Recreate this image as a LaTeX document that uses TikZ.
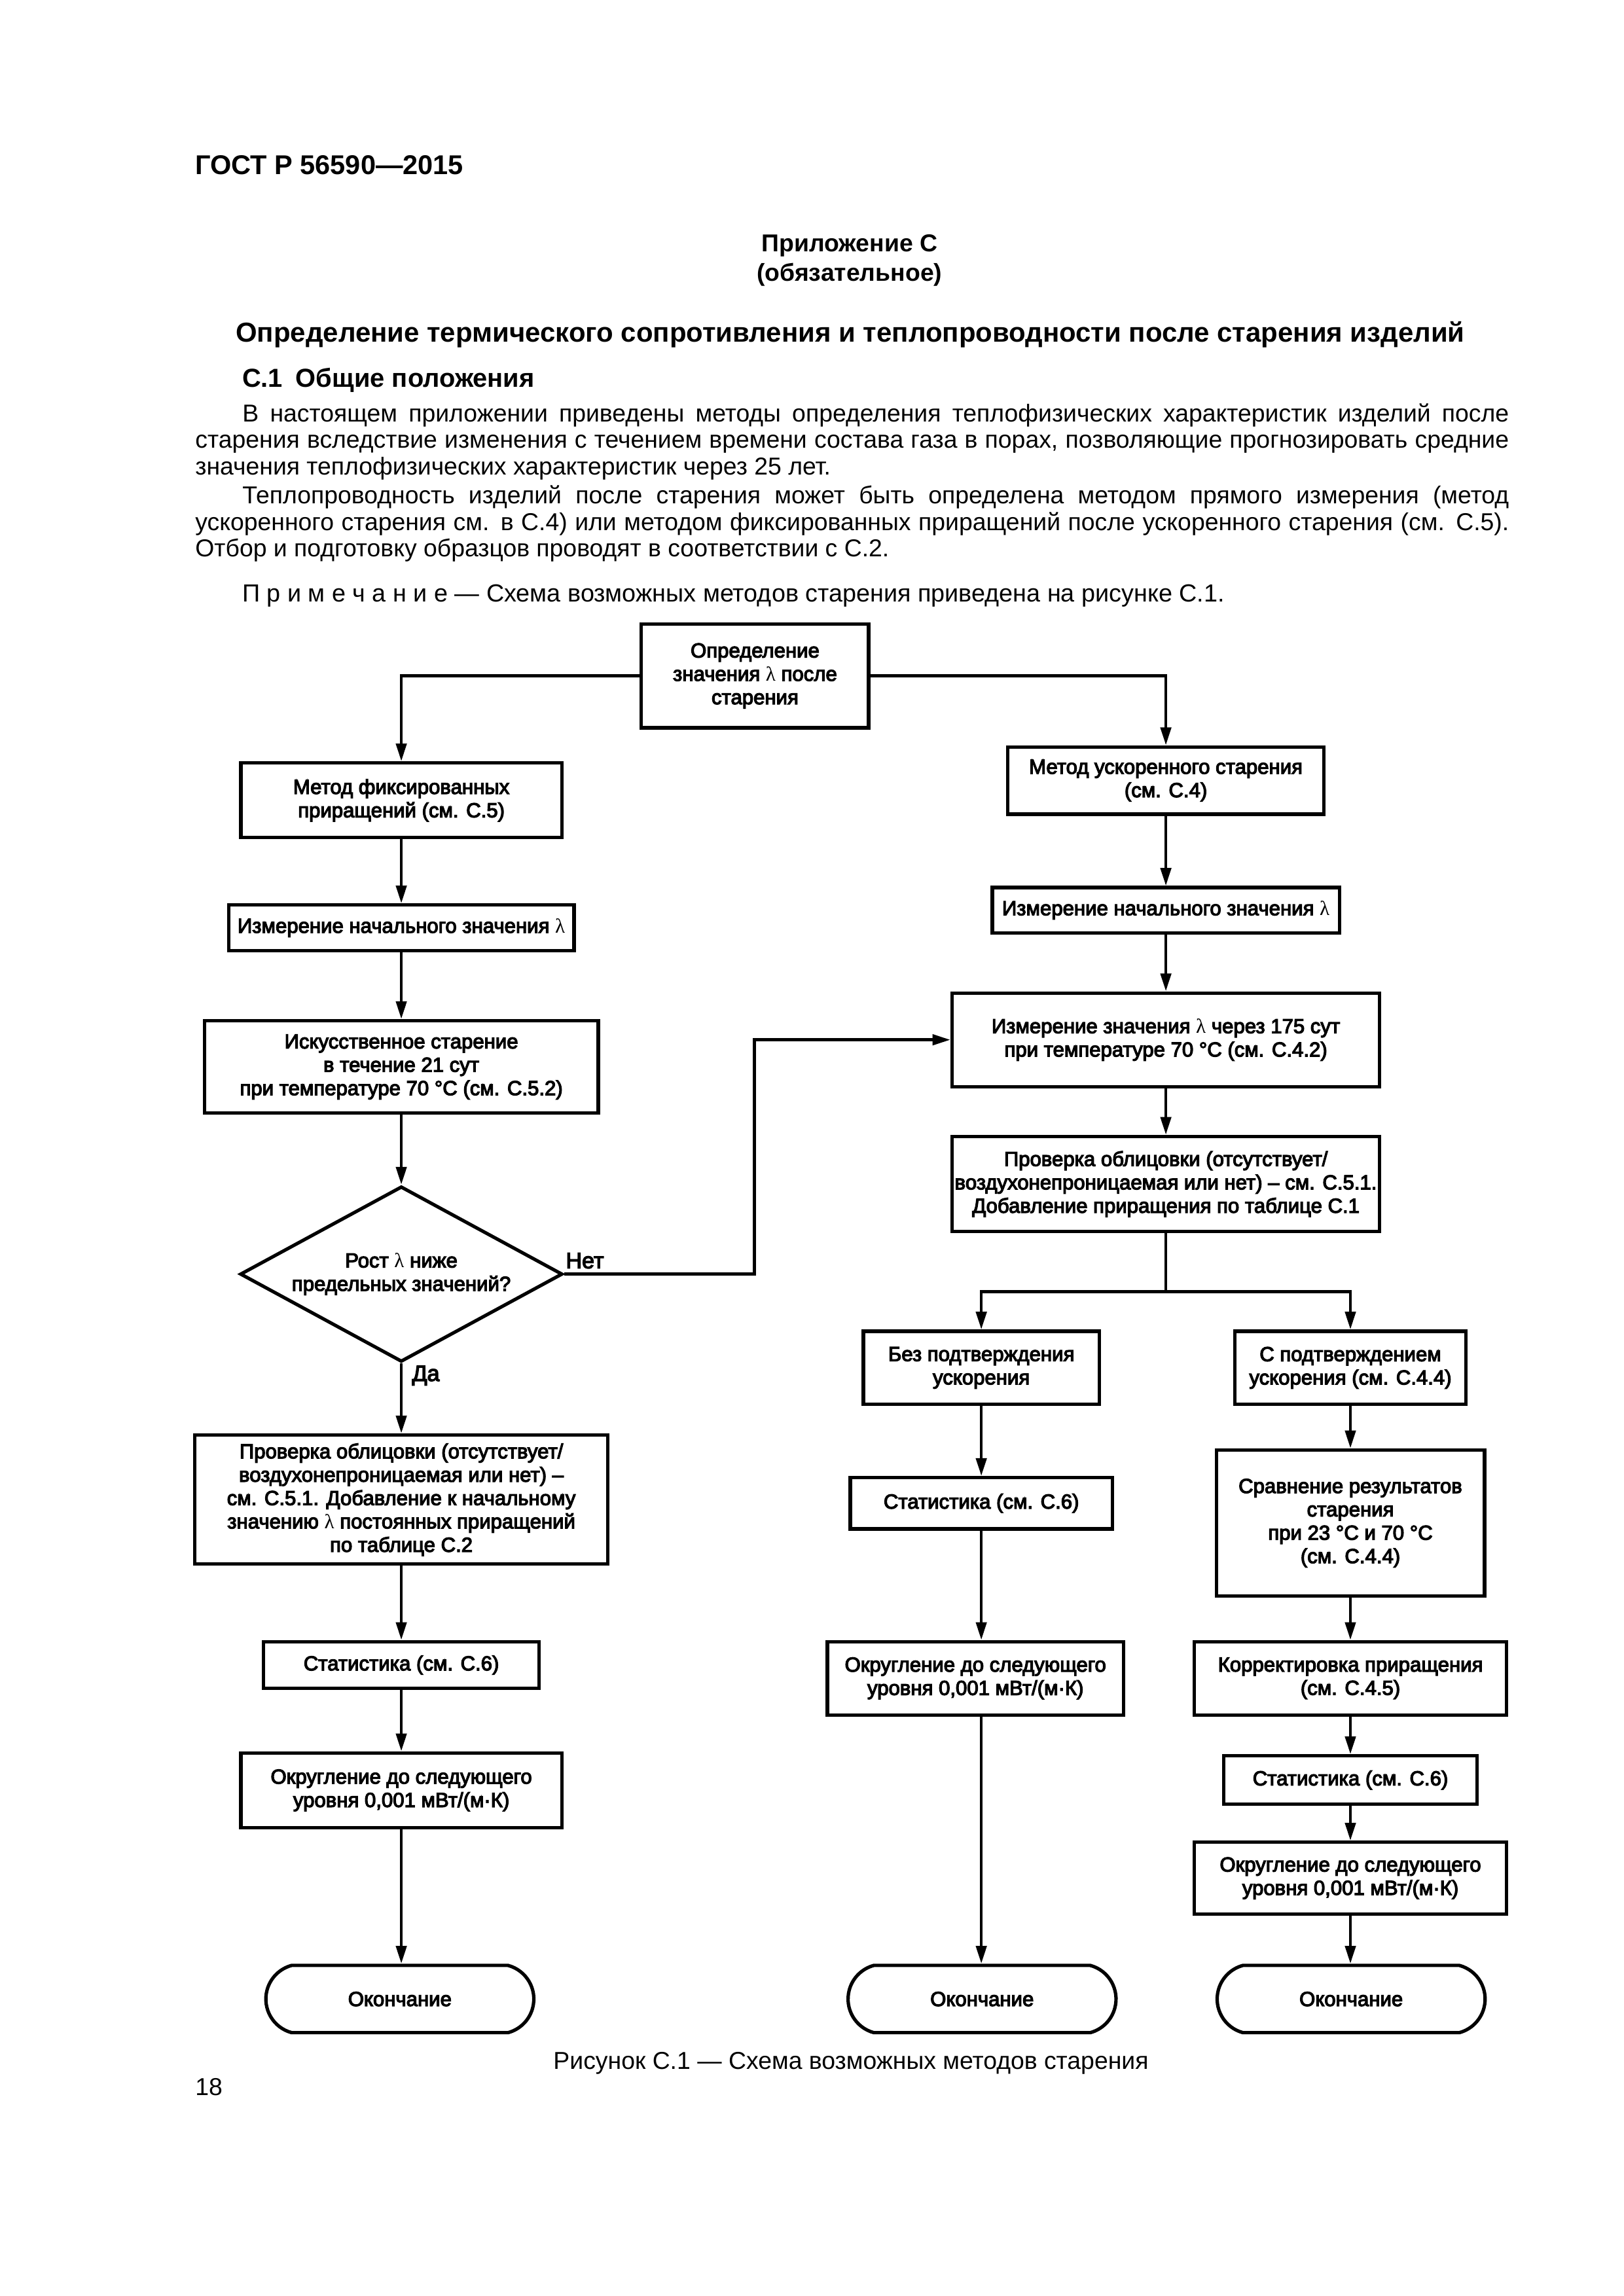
\documentclass[tikz,border=0pt]{standalone}
\usepackage{fontspec}
\setmainfont{Liberation Sans}
\newfontfamily\boxfont[FakeBold=4]{Liberation Sans}
\newfontfamily\lamfont{Liberation Serif}
\newcommand{\lmb}{{\lamfont λ}}
\usetikzlibrary{arrows.meta, positioning, shapes.geometric, shapes.misc}

\begin{document}
\begin{tikzpicture}[
    x=0.18944mm, y=-0.18944mm,
    box/.style={rectangle, draw, line width=1.25pt, inner sep=1pt, align=center, font=\boxfont\fontsize{7.5}{8.6}\selectfont},
    decision/.style={diamond, draw, line width=1.25pt, inner sep=0pt, aspect=1.8, minimum width=41.7mm, minimum height=22.7mm, align=center, font=\boxfont\fontsize{7.5}{8.6}\selectfont},
    term/.style={rounded rectangle, rounded rectangle arc length=150, draw, line width=1.25pt, minimum width=37mm, minimum height=8.7mm, font=\boxfont\fontsize{7.5}{8.6}\selectfont},
    arrow/.style={-{Triangle[length=2.3mm, width=1.35mm]}, line width=1.1pt},
    lbl/.style={anchor=base west, inner sep=0pt, font=\boxfont\fontsize{8.2}{9}\selectfont},
    body/.style={anchor=base west, inner sep=0pt, text width=169.9mm, align=justify, font=\fontsize{9}{9.72}\selectfont},
    head/.style={anchor=base, inner sep=0pt, font=\bfseries\fontsize{9}{10}\selectfont},
]
\useasboundingbox (0,0) rectangle (1108.5,1567.8);

% Page text
\node[anchor=base west, inner sep=0pt, font=\bfseries\fontsize{10}{12}\selectfont] (gost) at (133,119) {ГОСТ Р 56590—2015};
\node[head] (app) at (580,172) {Приложение С};
\node[head] (oblig) at (580,192) {(обязательное)};
\node[head, font=\bfseries\fontsize{10.1}{12}\selectfont] (title) at (580.5,233.5) {Определение термического сопротивления и теплопроводности после старения изделий};
\node[head, anchor=base west, font=\bfseries\fontsize{9.6}{11}\selectfont] (sec) at (165,264.5) {С.1\hspace{0.5em}Общие положения};
\node[body] (par1) at (133,288) {\hspace*{6.1mm}В настоящем приложении приведены методы определения теплофизических характеристик изделий после\linebreak старения вследствие изменения с течением времени состава газа в порах, позволяющие прогнозировать средние\linebreak значения теплофизических характеристик через 25 лет.};
\node[body] (par2) at (133,344) {\hspace*{6.1mm}Теплопроводность изделий после старения может быть определена методом прямого измерения (метод\linebreak ускоренного старения см. в С.4) или методом фиксированных приращений после ускоренного старения (см. С.5).\linebreak Отбор и подготовку образцов проводят в соответствии с С.2.};
\node[anchor=base west, inner sep=0pt, font=\fontsize{9.1}{9.72}\selectfont] (note) at (165,411) {П р и м е ч а н и е — Схема возможных методов старения приведена на рисунке С.1.};

% Start
\node[box, minimum width=29.4mm, minimum height=13.45mm] (start) at (515.5,461.5) {Определение\\значения \lmb{} после\\старения};

% Left branch: fixed increments
\node[box, minimum width=41.5mm, minimum height=9.66mm] (fix) at (274,546.5) {Метод фиксированных\\приращений (см. С.5)};
\node[box, minimum width=44.7mm, minimum height=5.87mm] (fixinit) at (274,633.5) {Измерение начального значения \lmb};
\node[box, minimum width=50.96mm, minimum height=11.93mm] (artif) at (274,728.5) {Искусственное старение\\в течение 21 сут\\при температуре 70 °C (см. С.5.2)};
\node[decision] (growth) at (274,870) {Рост \lmb{} ниже\\предельных значений?};
\node[box, minimum width=53.4mm, minimum height=16.7mm] (fixcheck) at (274,1024) {Проверка облицовки (отсутствует/\\воздухонепроницаемая или нет) –\\см. С.5.1. Добавление к начальному\\значению \lmb{} постоянных приращений\\по таблице С.2};
\node[box, minimum width=35.6mm, minimum height=6.06mm] (fixstat) at (274,1137) {Статистика (см. С.6)};
\node[box, minimum width=41.5mm, minimum height=9.66mm] (fixround) at (274,1222.5) {Округление до следующего\\уровня 0,001 мВт/(м·К)};
\node[term] (fixend) at (273,1365) {Окончание};

% Right branch: accelerated ageing
\node[box, minimum width=40.9mm, minimum height=8.7mm] (acc) at (796,533) {Метод ускоренного старения\\(см. С.4)};
\node[box, minimum width=44.9mm, minimum height=5.87mm] (accinit) at (796,621.5) {Измерение начального значения \lmb};
\node[box, minimum width=55.3mm, minimum height=12.1mm] (acc175) at (796,710) {Измерение значения \lmb{} через 175 сут\\при температуре 70 °C (см. С.4.2)};
\node[box, minimum width=55.3mm, minimum height=12.3mm] (acccheck) at (796,808.5) {Проверка облицовки (отсутствует/\\воздухонепроницаемая или нет) – см. С.5.1.\\Добавление приращения по таблице С.1};

% Without confirmation
\node[box, minimum width=30.5mm, minimum height=9.47mm] (noconf) at (670,934) {Без подтверждения\\ускорения};
\node[box, minimum width=33.9mm, minimum height=6.63mm] (nostat) at (670,1026.5) {Статистика (см. С.6)};
\node[box, minimum width=38.3mm, minimum height=9.47mm] (noround) at (666,1146) {Округление до следующего\\уровня 0,001 мВт/(м·К)};
\node[term] (noend) at (670.5,1365) {Окончание};

% With confirmation
\node[box, minimum width=29.9mm, minimum height=9.47mm] (conf) at (922,934) {С подтверждением\\ускорения (см. С.4.4)};
\node[box, minimum width=34.7mm, minimum height=18.9mm] (compare) at (922,1040) {Сравнение результатов\\старения\\при 23 °C и 70 °C\\(см. С.4.4)};
\node[box, minimum width=40.35mm, minimum height=9.47mm] (correct) at (922,1146) {Корректировка приращения\\(см. С.4.5)};
\node[box, minimum width=32.8mm, minimum height=6.25mm] (confstat) at (922,1215.5) {Статистика (см. С.6)};
\node[box, minimum width=40.35mm, minimum height=9.28mm] (confround) at (922,1282.5) {Округление до следующего\\уровня 0,001 мВт/(м·К)};
\node[term] (confend) at (922.5,1365) {Окончание};

% Arrows
\draw[arrow] (start.west) -| (fix.north);
\draw[arrow] (start.east) -| (acc.north);
\draw[arrow] (fix) -- (fix |- fixinit.north);
\draw[arrow] (fixinit) -- (fixinit |- artif.north);
\draw[arrow] (artif) -- (artif |- growth.north);
\draw[arrow] (growth) -- (growth |- fixcheck.north);
\draw[arrow] (fixcheck) -- (fixcheck |- fixstat.north);
\draw[arrow] (fixstat) -- (fixstat |- fixround.north);
\draw[arrow] (fixround) -- (fixround |- fixend.north);

\coordinate (jog) at (515,870);
\draw[arrow] (growth.east) -- (jog) |- (acc175.west);
\node[lbl] (no) at (386,866) {Нет};
\node[lbl] (yes) at (281,943) {Да};

\draw[arrow] (acc) -- (acc |- accinit.north);
\draw[arrow] (accinit) -- (accinit |- acc175.north);
\draw[arrow] (acc175) -- (acc175 |- acccheck.north);
\coordinate (split) at (796,882);
\draw[arrow] (acccheck.south) -- (split) -| (noconf.north);
\draw[arrow] (split) -| (conf.north);

\draw[arrow] (noconf) -- (noconf |- nostat.north);
\draw[arrow] (nostat) -- (nostat |- noround.north);
\draw[arrow] (nostat |- noround.south) -- (nostat |- noend.north);

\draw[arrow] (conf) -- (conf |- compare.north);
\draw[arrow] (compare) -- (compare |- correct.north);
\draw[arrow] (correct) -- (correct |- confstat.north);
\draw[arrow] (confstat) -- (confstat |- confround.north);
\draw[arrow] (confround) -- (confround |- confend.north);

% Caption
\node[anchor=base, inner sep=0pt, font=\fontsize{9}{10}\selectfont] (caption) at (581,1413) {Рисунок С.1 — Схема возможных методов старения};
\node[anchor=base west, inner sep=0pt, font=\fontsize{9}{10}\selectfont] (page) at (133,1431) {18};

\end{tikzpicture}
\end{document}
